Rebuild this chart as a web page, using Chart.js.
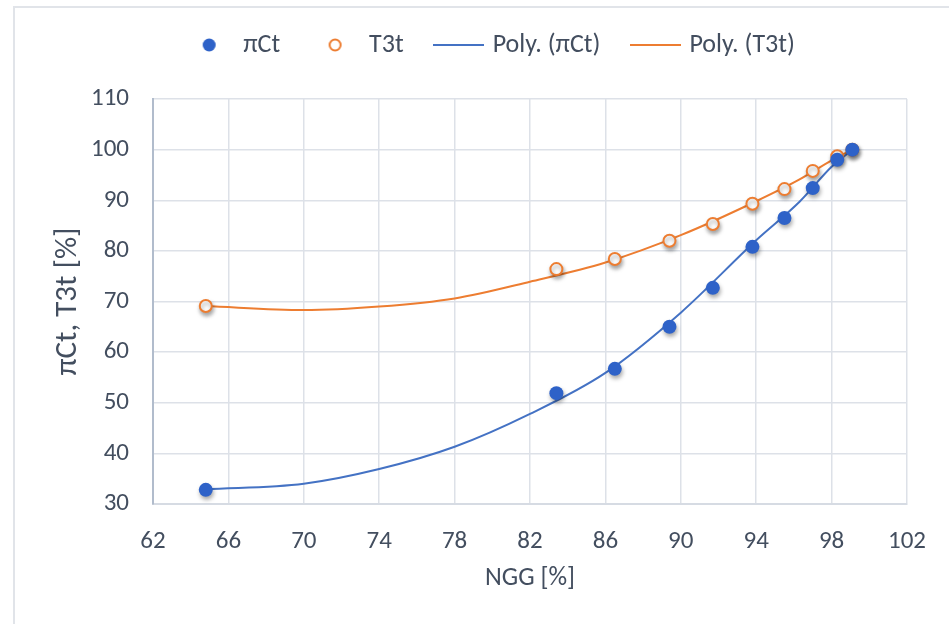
<!DOCTYPE html>
<html><head><meta charset="utf-8">
<script src="https://cdn.jsdelivr.net/npm/chart.js@4/dist/chart.umd.min.js"></script>
<style>
html,body{margin:0;padding:0;background:#fff;}
#wrap{position:relative;width:949px;height:624px;overflow:hidden;}
#frame{position:absolute;left:13px;top:6px;width:1000px;height:700px;border-left:2px solid #e1e4e9;border-top:2px solid #e1e4e9;pointer-events:none;}
canvas{position:absolute;left:0;top:0;}
</style></head>
<body><div id="wrap"><canvas id="c" width="949" height="624"></canvas><div id="frame"></div></div>
<script>
// ---- data ----
const seriesNames = ['πCt', 'T3t', 'Poly. (πCt)', 'Poly. (T3t)'];
const ngg  = [64.8, 83.4, 86.5, 89.4, 91.7, 93.8, 95.5, 97.0, 98.3, 99.1];
const piCt = [32.8, 51.9, 56.7, 65.0, 72.7, 80.8, 86.5, 92.4, 98.0, 100.0];
const t3t  = [69.1, 76.4, 78.4, 82.0, 85.3, 89.3, 92.2, 95.8, 98.7, 100.0];
// trendline (2nd-order poly)
const trendX    = [64.8, 70, 74, 78, 82, 86, 90, 94, 96.3, 98, 99.1];
const trendPiCt = [32.9, 34.0, 36.9, 41.3, 47.8, 55.9, 67.8, 82.1, 89.7, 96.6, 100.0];
const trendT3t  = [69.1, 68.3, 69.0, 70.6, 73.9, 77.7, 83.1, 89.8, 94.1, 97.9, 100.0];
const xMin = 62, xMax = 102, xStep = 4;
const yMin = 30, yMax = 110, yStep = 10;
const xTitle = 'NGG [%]';
const yTitle = 'πCt, T3t [%]';

const BLUE = '#4472C4', BLUE_M = '#2E62C8', ORANGE = '#ED7D31';
const TXT = '#434e5f';
const FONT = "Carlito, Lato, 'Liberation Sans', sans-serif";

const toPts = (xs, ys) => xs.map((x, i) => ({x, y: ys[i]}));

function legendImg(kind, color) {
  const c = document.createElement('canvas');
  c.width = 51; c.height = 16;
  const g = c.getContext('2d');
  if (kind === 'line') {
    g.fillStyle = color; g.fillRect(0, 7, 51, 2);
  } else if (kind === 'dot') {
    g.fillStyle = color; g.beginPath(); g.arc(25.5, 8, 6.5, 0, Math.PI * 2); g.fill();
  } else {
    g.fillStyle = '#fff'; g.strokeStyle = color; g.lineWidth = 2;
    g.beginPath(); g.arc(25.5, 8, 5.5, 0, Math.PI * 2); g.fill(); g.stroke();
  }
  return c;
}
const legendStyles = [legendImg('dot', BLUE_M), legendImg('ring', ORANGE), legendImg('line', BLUE), legendImg('line', ORANGE)];

const markerShadow = {
  id: 'markerShadow',
  beforeDatasetDraw(chart, args) {
    if (chart.data.datasets[args.index].showLine === false) {
      const ctx = chart.ctx; ctx.save();
      ctx.shadowColor = 'rgba(0,0,0,0.35)'; ctx.shadowBlur = 4; ctx.shadowOffsetX = 1; ctx.shadowOffsetY = 3;
    }
  },
  afterDatasetDraw(chart, args) {
    if (chart.data.datasets[args.index].showLine === false) chart.ctx.restore();
  }
};

new Chart(document.getElementById('c'), {
  type: 'scatter',
  data: {
    datasets: [
      { label: seriesNames[0], data: toPts(ngg, piCt), showLine: false, order: 0,
        backgroundColor: BLUE_M, borderColor: BLUE_M, pointRadius: 7, pointBorderWidth: 0 },
      { label: seriesNames[1], data: toPts(ngg, t3t), showLine: false, order: 0,
        backgroundColor: '#ffffff', borderColor: ORANGE, pointRadius: 6, pointBorderWidth: 2 },
      { label: seriesNames[2], data: toPts(trendX, trendPiCt), showLine: true, order: 1,
        borderColor: BLUE, borderWidth: 2, pointRadius: 0, cubicInterpolationMode: 'monotone', fill: false },
      { label: seriesNames[3], data: toPts(trendX, trendT3t), showLine: true, order: 1,
        borderColor: ORANGE, borderWidth: 2, pointRadius: 0, cubicInterpolationMode: 'monotone', fill: false }
    ]
  },
  options: {
    responsive: false, animation: false, devicePixelRatio: 1,
    layout: { padding: { left: 76, right: 42, top: -2, bottom: 0 } },
    plugins: {
      tooltip: { enabled: false },
      title: { display: true, text: '', weight: 0, font: { size: 10 }, padding: { top: 0, bottom: 19 } },
      legend: {
        position: 'top', fullSize: true, align: 'center', weight: 3000,
        labels: {
          usePointStyle: true, pointStyleWidth: 42, padding: 34, color: TXT,
          font: { family: FONT, size: 26 },
          generateLabels: (chart) => chart.data.datasets.map((ds, i) => ({
            text: ds.label, pointStyle: legendStyles[i], datasetIndex: i,
            hidden: false, fontColor: TXT, lineWidth: 0, fillStyle: 'transparent', strokeStyle: 'transparent'
          }))
        }
      }
    },
    scales: {
      x: {
        type: 'linear', min: xMin, max: xMax,
        afterFit: (s) => { s.height = 120; },
        ticks: { stepSize: xStep, color: TXT, font: { family: FONT, size: 25 }, padding: 23, maxRotation: 0 },
        grid: { color: '#dde1e8', lineWidth: 1.5, drawTicks: false },
        border: { color: '#d6dbe3', width: 2 },
        title: { display: true, text: xTitle, color: TXT, font: { family: FONT, size: 26 }, padding: { top: 4, bottom: 30 } }
      },
      y: {
        type: 'linear', min: yMin, max: yMax,
        afterFit: (s) => { s.width = 77; },
        ticks: { stepSize: yStep, color: TXT, font: { family: FONT, size: 25 }, padding: 24 },
        grid: { color: '#dde1e8', lineWidth: 1.5, drawTicks: false },
        border: { color: '#b1bccc', width: 2 },
        title: { display: true, text: yTitle, color: TXT, font: { family: FONT, size: 31 }, padding: { top: -26.6, bottom: 0 } }
      }
    }
  },
  plugins: [markerShadow]
});
</script>
</body></html>
